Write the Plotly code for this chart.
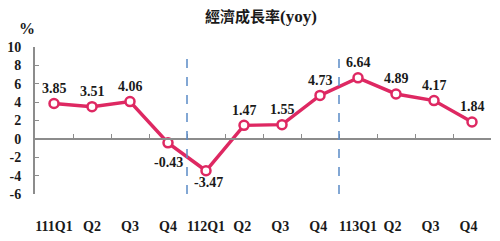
import plotly.graph_objects as go

categories = ["111Q1", "Q2", "Q3", "Q4", "112Q1", "Q2 ", "Q3 ", "Q4 ", "113Q1", "Q2  ", "Q3  ", "Q4  "]
growth = [3.85, 3.51, 4.06, -0.43, -3.47, 1.47, 1.55, 4.73, 6.64, 4.89, 4.17, 1.84]
y_ticks = [-6, -4, -2, 0, 2, 4, 6, 8, 10]
y_tick_text = ["-6", "-4", "-2", "0", "2", "4", "6", "8", "10"]
title_cjk = "經濟成長率"
title_latin = "(yoy)"
unit_text = "%"

# label offsets (px): above for most, below for the two negative points
label_dy = [15, 15, 15, -20, -12, 15, 15, 15, 15, 15, 15, 15]
label_dx = [0, 0, 0, 0, 2, 0, 0, 0, 0, 0, 0, 0]

LINE = "#DE2862"
AX = "#8C8C8C"
SERIF = "Liberation Serif, Times New Roman, serif"

fig = go.Figure()
fig.add_trace(go.Scatter(
    x=categories, y=growth, mode="lines+markers",
    line=dict(color=LINE, width=3.5),
    marker=dict(symbol="circle", size=9, color="white", line=dict(color=LINE, width=2.5)),
    hoverinfo="skip", xaxis="x", yaxis="y",
))
# dummy trace to carry the zero-line axis
fig.add_trace(go.Scatter(x=categories, y=growth, mode="none", hoverinfo="skip",
                         showlegend=False, xaxis="x2", yaxis="y"))

for c, v, dy, dx in zip(categories, growth, label_dy, label_dx):
    fig.add_annotation(x=c, y=v, text=f"{v:.2f}", showarrow=False, yshift=dy, xshift=dx,
                       font=dict(family=SERIF, size=14, color="#1a1a1a", weight="bold"))

for xb in [3.5, 7.5]:
    fig.add_shape(type="line", xref="x", yref="y", x0=xb, x1=xb, y0=-6, y1=9.6,
                  line=dict(color="#5A8AC6", width=1.5, dash="dash"))

fig.add_annotation(xref="paper", yref="paper", x=0.5, y=1,
                   text=(f"<b>{title_cjk}<span style='font-family:Liberation Serif;font-size:17px'>"
                         f"{title_latin}</span></b>"),
                   xanchor="center", yanchor="middle", yshift=32, xshift=-2, showarrow=False,
                   font=dict(family="Noto Sans CJK TC, " + SERIF, size=15, color="#1a1a1a"))
fig.add_annotation(xref="paper", yref="paper", x=0, y=1, text=f"<b>{unit_text}</b>",
                   xanchor="center", yanchor="middle", yshift=19, xshift=-8, showarrow=False,
                   font=dict(family=SERIF, size=16, color="#1a1a1a"))

fig.update_layout(
    width=500, height=241, margin=dict(l=35, r=9, t=47, b=47),
    paper_bgcolor="white", plot_bgcolor="white", showlegend=False,
    xaxis=dict(type="category", categoryorder="array", categoryarray=categories,
               range=[-0.5, 11.5], showline=False, showgrid=False, zeroline=False, ticks="",
               tickfont=dict(family=SERIF, size=14, color="#1a1a1a", weight="bold"),
               ticklabelstandoff=22, automargin=False),
    xaxis2=dict(type="category", overlaying="x", matches="x", anchor="free", position=0.375,
                showline=True, linecolor=AX, linewidth=2, ticks="inside", tickson="boundaries",
                ticklen=4, tickcolor=AX, tickwidth=1, showticklabels=False, showgrid=False,
                zeroline=False, automargin=False),
    yaxis=dict(range=[-6, 10], tickvals=y_ticks, ticktext=y_tick_text, showline=True,
               linecolor=AX, linewidth=2,
               ticks="inside", ticklen=4, tickcolor=AX, showgrid=False, zeroline=False,
               tickfont=dict(family=SERIF, size=14, color="#1a1a1a", weight="bold"),
               ticklabelstandoff=9, automargin=False),
)

fig.write_html("out.html")
